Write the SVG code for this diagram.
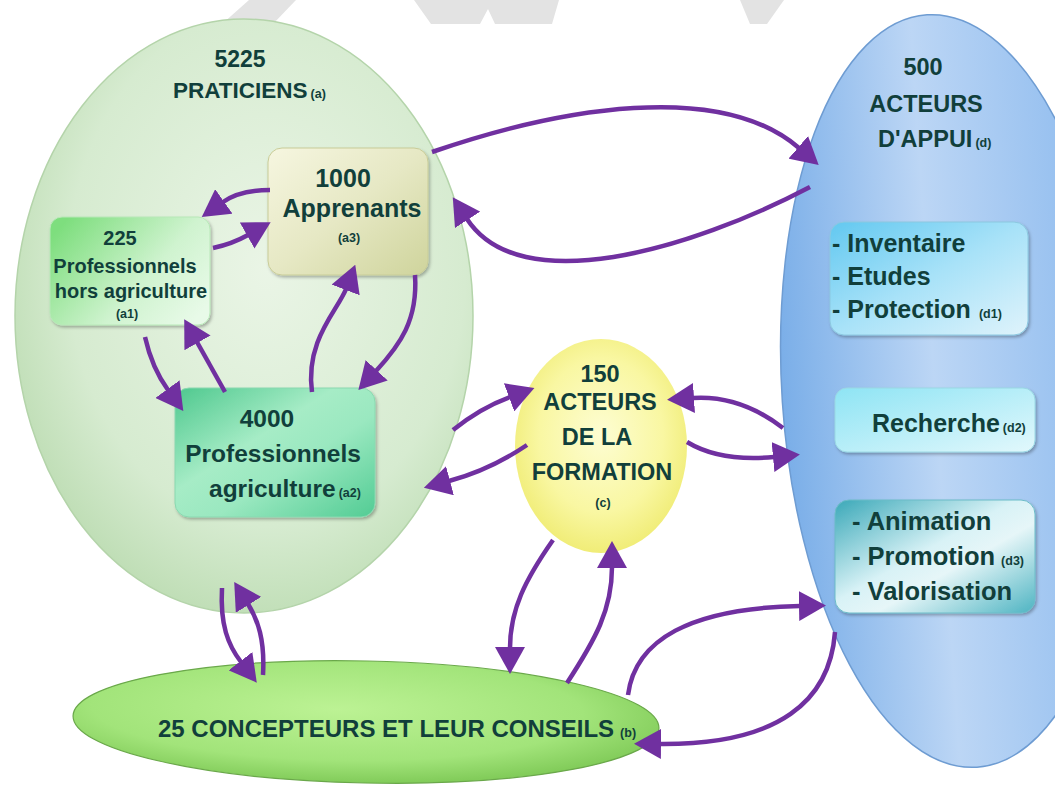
<svg xmlns="http://www.w3.org/2000/svg" width="1055" height="786" viewBox="0 0 1055 786">
<style>
.t{font-family:"Liberation Sans",Arial,sans-serif;font-weight:bold;fill:#113f3b}
.s{font-size:12.5px}
.conn path{fill:none;stroke:#7030a0;stroke-width:4.5;marker-end:url(#ah)}
</style>
<defs>
<marker id="ah" viewBox="0 0 27 30" refX="1" refY="15" markerWidth="27" markerHeight="30" markerUnits="userSpaceOnUse" orient="auto"><path d="M0,0 L27,15 L0,30 Z" fill="#7030a0"/></marker>
<filter id="sh" x="-10%" y="-10%" width="125%" height="125%"><feDropShadow dx="1.5" dy="2" stdDeviation="1.5" flood-color="#000" flood-opacity="0.28"/></filter>
<radialGradient id="gPrat" cx="0.55" cy="0.42" r="0.62"><stop offset="0" stop-color="#eaf5e6"/><stop offset="0.7" stop-color="#d6ebd0"/><stop offset="1" stop-color="#bcdcb2"/></radialGradient>
<linearGradient id="gBlue" x1="0" y1="0" x2="1" y2="0"><stop offset="0" stop-color="#7aaee8"/><stop offset="0.45" stop-color="#bcd6f5"/><stop offset="1" stop-color="#8cbaee"/></linearGradient>
<radialGradient id="gYel" cx="0.5" cy="0.45" r="0.6"><stop offset="0" stop-color="#fdfdd2"/><stop offset="0.6" stop-color="#f9f7a2"/><stop offset="1" stop-color="#eeea6c"/></radialGradient>
<radialGradient id="gBot" cx="0.45" cy="0.4" r="0.6"><stop offset="0" stop-color="#bcf294"/><stop offset="0.7" stop-color="#a2e47a"/><stop offset="1" stop-color="#82cc5a"/></radialGradient>
<linearGradient id="gA3" x1="0" y1="0" x2="1" y2="1"><stop offset="0" stop-color="#f6f6e0"/><stop offset="0.5" stop-color="#e6e8c4"/><stop offset="1" stop-color="#cfd49c"/></linearGradient>
<linearGradient id="gA1" x1="0" y1="0.2" x2="1" y2="0.8"><stop offset="0" stop-color="#7ede7e"/><stop offset="0.6" stop-color="#cff3cf"/><stop offset="1" stop-color="#e8fae8"/></linearGradient>
<linearGradient id="gA2" x1="0" y1="0" x2="1" y2="1"><stop offset="0" stop-color="#4ec88e"/><stop offset="0.4" stop-color="#a6ecc6"/><stop offset="0.6" stop-color="#9ae8c0"/><stop offset="1" stop-color="#52cc94"/></linearGradient>
<linearGradient id="gD1" x1="0" y1="0" x2="1" y2="1"><stop offset="0" stop-color="#62c8f0"/><stop offset="0.5" stop-color="#a8e2f8"/><stop offset="1" stop-color="#dff3fb"/></linearGradient>
<linearGradient id="gD2" x1="0" y1="0" x2="1" y2="1"><stop offset="0" stop-color="#8ee4f4"/><stop offset="1" stop-color="#e2f8fc"/></linearGradient>
<linearGradient id="gD3" x1="0" y1="0" x2="1" y2="1"><stop offset="0" stop-color="#3aa8b8"/><stop offset="0.45" stop-color="#d8f2f6"/><stop offset="0.6" stop-color="#e6f6f8"/><stop offset="1" stop-color="#4eb4c2"/></linearGradient>
</defs>
<rect width="1055" height="786" fill="#ffffff"/>
<g id="watermark" fill="#e3e3e3">
<polygon points="249,0 296,0 273,24 222,24"/>
<polygon points="414,0 559,0 552,24 495,24 488,9 480,24 431,24"/>
<polygon points="740,0 784,0 767,24 750,24"/>
</g>
<g id="praticiens">
<ellipse cx="244" cy="316" rx="229" ry="297" fill="url(#gPrat)" stroke="#b4d4aa" stroke-width="1.5"/>
<text class="t" font-size="23" x="240" y="67" text-anchor="middle">5225</text>
<text class="t" font-size="22.5" x="173" y="98">PRATICIENS<tspan class="s" dx="3">(a)</tspan></text>
</g>
<g id="acteurs-appui">
<ellipse cx="952" cy="391" rx="170" ry="377" transform="rotate(-3.8 952 391)" fill="url(#gBlue)" stroke="#6e9cd2" stroke-width="1.5"/>
<text class="t" font-size="23.5" x="923" y="75" text-anchor="middle">500</text>
<text class="t" font-size="23.5" x="926" y="112" text-anchor="middle">ACTEURS</text>
<text class="t" font-size="23.5" x="878" y="147">D'APPUI<tspan class="s" dx="3">(d)</tspan></text>
</g>
<g id="formation">
<ellipse cx="601" cy="446" rx="86" ry="107" fill="url(#gYel)"/>
<text class="t" font-size="23.5" text-anchor="middle"><tspan x="600" y="382">150</tspan><tspan x="600" y="410">ACTEURS</tspan><tspan x="597" y="445">DE LA</tspan><tspan x="602" y="480">FORMATION</tspan></text>
<text class="t s" x="603" y="507" text-anchor="middle">(c)</text>
</g>
<g id="concepteurs">
<ellipse cx="366" cy="722" rx="293" ry="61" transform="rotate(1.2 366 722)" fill="url(#gBot)" stroke="#6aa84a" stroke-width="1.2"/>
<text class="t" font-size="24" x="158" y="737">25 CONCEPTEURS ET LEUR CONSEILS<tspan class="s" dx="6">(b)</tspan></text>
</g>
<g id="apprenants">
<rect x="268" y="148" width="160" height="127" rx="14" fill="url(#gA3)" stroke="#c8cc98" filter="url(#sh)"/>
<text class="t" font-size="25" text-anchor="middle"><tspan x="343" y="187">1000</tspan><tspan x="352" y="217">Apprenants</tspan></text>
<text class="t s" x="349" y="242" text-anchor="middle">(a3)</text>
</g>
<g id="hors-agriculture">
<rect x="50" y="217" width="160" height="108" rx="12" fill="url(#gA1)" stroke="#b8e8b8" filter="url(#sh)"/>
<text class="t" font-size="20" text-anchor="middle"><tspan x="120" y="245">225</tspan><tspan x="125" y="273">Professionnels</tspan><tspan x="131" y="298">hors agriculture</tspan></text>
<text class="t s" x="127" y="318" text-anchor="middle">(a1)</text>
</g>
<g id="agriculture">
<rect x="175" y="388" width="200" height="129" rx="14" fill="url(#gA2)" stroke="#8ad8b0" filter="url(#sh)"/>
<text class="t" font-size="24.5" text-anchor="middle"><tspan x="267" y="427">4000</tspan><tspan x="273" y="462">Professionnels</tspan></text>
<text class="t" font-size="24.5" x="209" y="497">agriculture<tspan class="s" dx="3">(a2)</tspan></text>
</g>
<g id="d1">
<rect x="830" y="222" width="198" height="113" rx="14" fill="url(#gD1)" stroke="#8cc8e0" filter="url(#sh)"/>
<text class="t" font-size="25"><tspan x="832" y="252">- Inventaire</tspan><tspan x="832" y="285">- Etudes</tspan><tspan x="832" y="318">- Protection<tspan class="s" dx="8">(d1)</tspan></tspan></text>
</g>
<g id="d2">
<rect x="835" y="388" width="200" height="64" rx="12" fill="url(#gD2)" stroke="#9ad8e4" filter="url(#sh)"/>
<text class="t" font-size="25" x="872" y="432">Recherche<tspan class="s" dx="3">(d2)</tspan></text>
</g>
<g id="d3">
<rect x="835" y="500" width="200" height="113" rx="14" fill="url(#gD3)" stroke="#6cbcc8" filter="url(#sh)"/>
<text class="t" font-size="25.5"><tspan x="852" y="530">- Animation</tspan><tspan x="852" y="565">- Promotion<tspan class="s" dx="6">(d3)</tspan></tspan><tspan x="852" y="600">- Valorisation</tspan></text>
</g>
<g id="connectors" class="conn">
<path d="M270,190 Q240,190 223,202"/>
<path d="M213,248 Q232,244 248,235"/>
<path d="M145,337 Q152,368 168,390"/>
<path d="M225,392 Q210,365 197,342"/>
<path d="M312,392 C305,340 338,310 346,289"/>
<path d="M415,275 C418,320 400,345 376,371"/>
<path d="M432,152 C560,108 720,80 799,148"/>
<path d="M810,187 C690,250 520,300 467,219"/>
<path d="M453,430 Q480,408 510,397"/>
<path d="M527,445 Q490,470 449,481"/>
<path d="M783,428 Q740,395 693,398"/>
<path d="M687,442 Q720,462 774,457"/>
<path d="M553,540 C525,580 510,610 510,648"/>
<path d="M567,683 C595,640 612,610 612,567"/>
<path d="M628,695 C635,640 690,608 800,606"/>
<path d="M835,632 C830,700 780,745 660,744"/>
<path d="M222,588 C220,625 228,645 241,662"/>
<path d="M263,675 C265,640 258,620 248,604"/>
</g>
</svg>
